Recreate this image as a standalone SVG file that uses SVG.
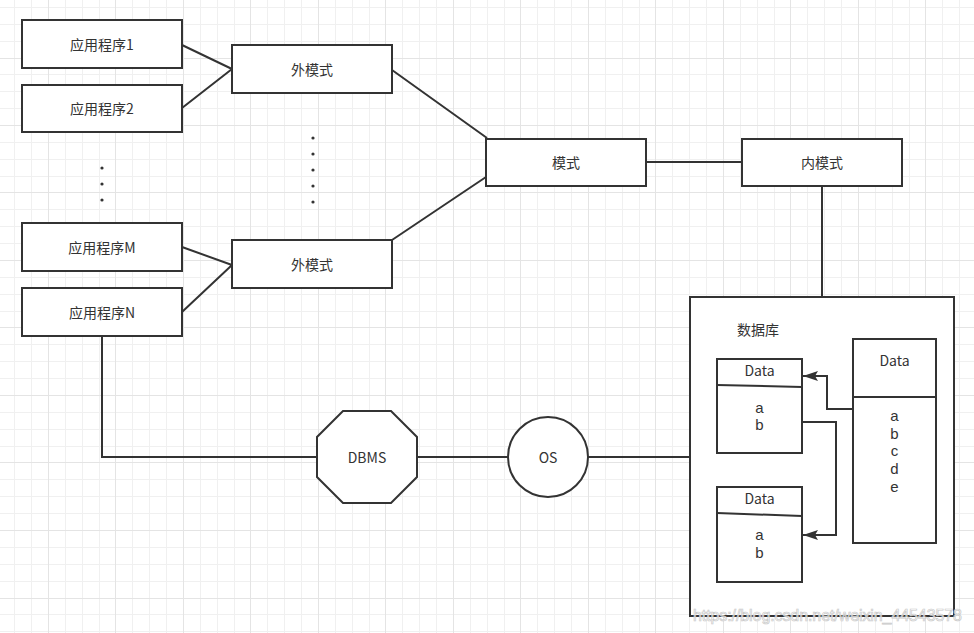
<svg xmlns="http://www.w3.org/2000/svg" width="974" height="633" viewBox="0 0 974 633">
<defs>
<style>
.gl{stroke:#f0f0f0;stroke-width:1;fill:none}
.gd{stroke:#e4e4e4;stroke-width:1;fill:none}
.box{fill:#fff;stroke:#333;stroke-width:2}
.ln{fill:none;stroke:#333;stroke-width:2}
.t{font-family:"Noto Sans CJK SC","Noto Sans",sans-serif;font-size:14px;fill:#333;text-anchor:middle;dominant-baseline:central}
.l{font-family:"Liberation Sans",Arial,sans-serif;font-size:15px;fill:#333;text-anchor:middle;dominant-baseline:central}
.dot{fill:#333}
</style>
<marker id="ah" markerWidth="16" markerHeight="10" refX="15" refY="5" orient="auto" markerUnits="userSpaceOnUse">
<path d="M0,0 L15,5 L0,10 L3,5 Z" fill="#333"/>
</marker>
</defs>
<rect width="974" height="633" fill="#fff"/>
<g id="grid">
<path class="gl" d="M14.5 0V633M31.5 0V633M65.5 0V633M82.5 0V633M99.5 0V633M132.5 0V633M149.5 0V633M166.5 0V633M200.5 0V633M217.5 0V633M234.5 0V633M267.5 0V633M284.5 0V633M301.5 0V633M335.5 0V633M352.5 0V633M369.5 0V633M402.5 0V633M419.5 0V633M436.5 0V633M470.5 0V633M487.5 0V633M504.5 0V633M537.5 0V633M554.5 0V633M571.5 0V633M605.5 0V633M622.5 0V633M639.5 0V633M672.5 0V633M689.5 0V633M706.5 0V633M740.5 0V633M757.5 0V633M774.5 0V633M807.5 0V633M824.5 0V633M841.5 0V633M875.5 0V633M892.5 0V633M909.5 0V633M942.5 0V633M959.5 0V633
M0 7.5H974M0 24.5H974M0 41.5H974M0 74.5H974M0 91.5H974M0 108.5H974M0 142.5H974M0 159.5H974M0 176.5H974M0 209.5H974M0 226.5H974M0 243.5H974M0 277.5H974M0 294.5H974M0 311.5H974M0 344.5H974M0 361.5H974M0 378.5H974M0 412.5H974M0 429.5H974M0 446.5H974M0 479.5H974M0 496.5H974M0 513.5H974M0 547.5H974M0 564.5H974M0 581.5H974M0 614.5H974M0 631.5H974"/>
<path class="gd" d="M48.5 0V633M115.5 0V633M183.5 0V633M250.5 0V633M318.5 0V633M385.5 0V633M453.5 0V633M520.5 0V633M588.5 0V633M655.5 0V633M723.5 0V633M790.5 0V633M858.5 0V633M925.5 0V633
M0 58.5H974M0 125.5H974M0 192.5H974M0 260.5H974M0 327.5H974M0 395.5H974M0 462.5H974M0 530.5H974M0 598.5H974"/>
</g>
<g id="connectors">
<path class="ln" d="M182 45L232 69M182 108L232 69"/>
<path class="ln" d="M182 247L232 265M182 312L232 265"/>
<path class="ln" d="M392 70L487 138M392 240L486 177"/>
<path class="ln" d="M646 162H742"/>
<path class="ln" d="M822 186V297"/>
<path class="ln" d="M102 336V457H317"/>
<path class="ln" d="M417 457H508"/>
<path class="ln" d="M588 457H690"/>
</g>
<g id="app1"><rect class="box" x="22" y="20" width="160" height="48"/><text class="t" x="102" y="44">应用程序1</text></g>
<g id="app2"><rect class="box" x="22" y="85" width="160" height="47"/><text class="t" x="102" y="108">应用程序2</text></g>
<g id="appM"><rect class="box" x="22" y="223" width="160" height="48"/><text class="t" x="102" y="247">应用程序M</text></g>
<g id="appN"><rect class="box" x="22" y="288" width="160" height="48"/><text class="t" x="102" y="312">应用程序N</text></g>
<g id="dots-left"><circle class="dot" cx="102" cy="168" r="1.6"/><circle class="dot" cx="102" cy="184" r="1.6"/><circle class="dot" cx="102" cy="200" r="1.6"/></g>
<g id="dots-mid"><circle class="dot" cx="313" cy="138" r="1.6"/><circle class="dot" cx="313" cy="154" r="1.6"/><circle class="dot" cx="313" cy="170" r="1.6"/><circle class="dot" cx="313" cy="186" r="1.6"/><circle class="dot" cx="313" cy="202" r="1.6"/></g>
<g id="ext1"><rect class="box" x="232" y="45" width="160" height="48"/><text class="t" x="312" y="69">外模式</text></g>
<g id="ext2"><rect class="box" x="232" y="240" width="160" height="48"/><text class="t" x="312" y="264">外模式</text></g>
<g id="schema"><rect class="box" x="486" y="139" width="160" height="47"/><text class="t" x="566" y="162">模式</text></g>
<g id="inner"><rect class="box" x="742" y="139" width="160" height="47"/><text class="t" x="822" y="162">内模式</text></g>
<g id="dbms"><polygon class="box" points="343,411 391,411 417,437 417,477 391,503 343,503 317,477 317,437"/><text class="t" x="367" y="457">DBMS</text></g>
<g id="os"><circle class="box" cx="548" cy="457" r="40"/><text class="t" x="548" y="457">OS</text></g>
<g id="database">
<rect class="box" x="690" y="297" width="264" height="319"/>
<text class="t" x="737" y="329" style="text-anchor:start">数据库</text>
</g>
<g id="data1"><rect class="box" x="717" y="359" width="85" height="94"/><path class="ln" d="M717 385L802 387"/>
<text class="t" x="759.5" y="370">Data</text><text class="l" x="759.5" y="407">a</text><text class="l" x="759.5" y="424">b</text></g>
<g id="data2"><rect class="box" x="717" y="487" width="85" height="95"/><path class="ln" d="M717 513L802 516"/>
<text class="t" x="759.5" y="498">Data</text><text class="l" x="759.5" y="534">a</text><text class="l" x="759.5" y="552">b</text></g>
<g id="data3"><rect class="box" x="853" y="339" width="83" height="204"/><path class="ln" d="M853 397H936"/>
<text class="t" x="894.5" y="360">Data</text><text class="l" x="894.5" y="415">a</text><text class="l" x="894.5" y="433">b</text><text class="l" x="894.5" y="450">c</text><text class="l" x="894.5" y="468">d</text><text class="l" x="894.5" y="486">e</text></g>
<g id="inner-connectors">
<path class="ln" d="M853 409H827V376H803" marker-end="url(#ah)"/>
<path class="ln" d="M802 422H836V535H803" marker-end="url(#ah)"/>
</g>
<text x="693" y="621" style="font-family:'Liberation Sans',Arial,sans-serif;font-size:16px;fill:#fff;fill-opacity:0.7;stroke:#c8c8c8;stroke-width:0.7" textLength="269">https://blog.csdn.net/weixin_44543578</text>
</svg>
